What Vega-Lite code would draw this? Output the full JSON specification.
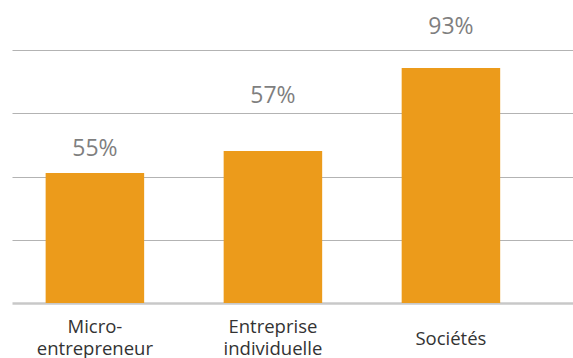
{
  "$schema": "https://vega.github.io/schema/vega-lite/v6.json",
  "width": 561,
  "height": 253,
  "padding": {"left": 12, "top": 50, "right": 0, "bottom": 55},
  "autosize": {"type": "none"},
  "background": "white",
  "config": {
    "view": {"stroke": null},
    "font": "Open Sans"
  },
  "data": {
    "values": [
      {"cat": "Micro-entrepreneur", "value": 51.4, "label": "55%", "labelY": 58.2},
      {"cat": "Entreprise individuelle", "value": 60.1, "label": "57%", "labelY": 78.9},
      {"cat": "Sociétés", "value": 92.9, "label": "93%", "labelY": 106.4}
    ]
  },
  "encoding": {
    "x": {
      "field": "cat",
      "type": "nominal",
      "sort": null,
      "scale": {"paddingInner": 0.4466, "paddingOuter": 0.299, "align": 0.316},
      "axis": {
        "title": null,
        "labelAngle": 0,
        "ticks": false,
        "tickSize": 0,
        "domainColor": "#c8c8c8",
        "domainWidth": 2.5,
        "labelPadding": {"condition": {"test": "datum.value == 'Sociétés'", "value": 35}, "value": 23.5},
        "labelBaseline": "middle",
        "labelFontSize": 18.5,
        "labelColor": "#333333",
        "labelLineHeight": 22,
        "labelExpr": "datum.value == 'Micro-entrepreneur' ? ['Micro-', 'entrepreneur'] : datum.value == 'Entreprise individuelle' ? ['Entreprise', 'individuelle'] : datum.value"
      }
    }
  },
  "layer": [
    {
      "mark": {"type": "bar", "color": "#EC9B1B"},
      "encoding": {
        "y": {
          "field": "value",
          "type": "quantitative",
          "scale": {"domain": [0, 100], "nice": false},
          "axis": {
            "title": null,
            "labels": false,
            "ticks": false,
            "domain": false,
            "values": [25, 50, 75, 100],
            "gridColor": "#b3b3b3",
            "gridWidth": 1.2
          }
        }
      }
    },
    {
      "mark": {"type": "text", "fontSize": 23, "color": "#7f7f7f", "baseline": "alphabetic", "align": "center"},
      "encoding": {
        "y": {"field": "labelY", "type": "quantitative"},
        "text": {"field": "label"}
      }
    }
  ]
}
